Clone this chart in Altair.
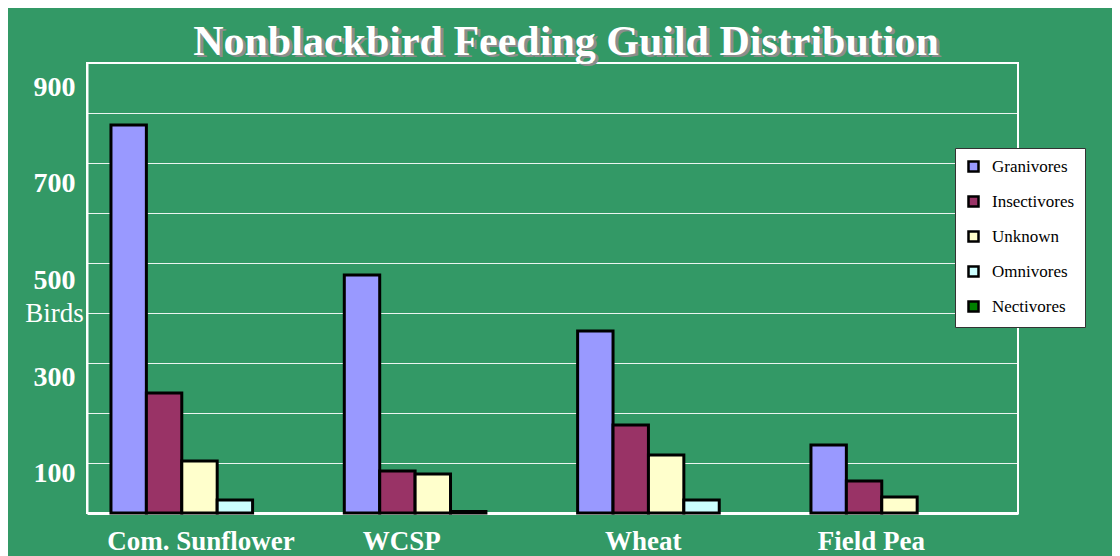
import altair as alt
import pandas as pd

crops = ["Com. Sunflower", "WCSP", "Wheat", "Field Pea"]
guilds = ["Granivores", "Insectivores", "Unknown", "Omnivores", "Nectivores"]
granivores = [776, 476, 364, 136]
insectivores = [240, 84, 176, 64]
unknown = [104, 78, 116, 32]
omnivores = [26, 3, 26, 0]
nectivores = [0, 0, 0, 0]
colors = ["#9999FF", "#993366", "#FFFFCC", "#CCFFFF", "#008000"]
title_text = "Nonblackbird Feeding Guild Distribution"
y_tick_values = [100, 200, 300, 400, 500, 600, 700, 800, 900]

rows = []
for g, vals in zip(guilds, [granivores, insectivores, unknown, omnivores, nectivores]):
    for c, v in zip(crops, vals):
        if v > 0:
            rows.append({"Crop": c, "Guild": g, "Birds": v})
df = pd.DataFrame(rows)

SERIF = "Liberation Serif"

x_label_offset = {
    "condition": [
        {"test": "datum.value === 'WCSP'", "value": -31},
        {"test": "datum.value === 'Wheat'", "value": -23},
        {"test": "datum.value === 'Field Pea'", "value": -28},
    ],
    "value": 1.5,
}
y_label_offset = {
    "condition": [
        {"test": "datum.value === 900", "value": 24},
        {"test": "datum.value === 700", "value": 20},
        {"test": "datum.value === 500", "value": 17},
        {"test": "datum.value === 300", "value": 14},
    ],
    "value": 10,
}

bars = alt.Chart(df).mark_bar(stroke="black", strokeWidth=3, strokeJoin="miter").encode(
    x=alt.X(
        "Crop:N",
        sort=crops,
        title=None,
        scale=alt.Scale(paddingInner=0.2413, paddingOuter=0.1157, align=0.444),
        axis=alt.Axis(
            labelAngle=0,
            labelFont=SERIF,
            labelFontSize=27,
            labelFontWeight="bold",
            labelColor="white",
            labelPadding=15,
            labelBaseline="top",
            labelOffset=x_label_offset,
            labelLimit=400,
            ticks=False,
            domainColor="white",
            domainWidth=3,
            grid=False,
        ),
    ),
    xOffset=alt.XOffset(
        "Guild:N", sort=guilds, scale=alt.Scale(domain=guilds, paddingInner=0, paddingOuter=0)
    ),
    y=alt.Y(
        "Birds:Q",
        scale=alt.Scale(domain=[0, 900], nice=False),
        title="Birds",
        axis=alt.Axis(
            values=y_tick_values,
            labelExpr="datum.value % 200 == 100 ? datum.label : ''",
            labelFont=SERIF,
            labelFontSize=28,
            labelFontWeight="bold",
            labelColor="white",
            labelPadding=12,
            labelBaseline="middle",
            labelOffset=y_label_offset,
            ticks=False,
            domainColor="white",
            domainWidth=2,
            gridColor="white",
            gridWidth=1,
            gridOpacity=0.9,
            titleFont=SERIF,
            titleFontSize=27,
            titleFontWeight="normal",
            titleColor="white",
            titleAngle=0,
            titleAlign="center",
            titleBaseline="middle",
            titleX=-33,
            titleY=250,
        ),
    ),
    color=alt.Color(
        "Guild:N",
        scale=alt.Scale(domain=guilds, range=colors),
        legend=alt.Legend(
            title=None,
            orient="none",
            legendX=868,
            legendY=85,
            fillColor="white",
            strokeColor="#333333",
            padding=10,
            symbolType="square",
            symbolSize=100,
            symbolStrokeColor="black",
            symbolStrokeWidth=2.5,
            labelFont=SERIF,
            labelFontSize=17,
            labelColor="black",
            labelOffset=10,
            rowPadding=14,
        ),
    ),
)

title_df = pd.DataFrame({"t": [title_text]})
shadow = alt.Chart(title_df).mark_text(
    font=SERIF, fontSize=42, fontWeight="bold", color="#8c8c8c",
    align="center", baseline="alphabetic",
).encode(text="t:N", x=alt.value(482), y=alt.value(-6))
title = alt.Chart(title_df).mark_text(
    font=SERIF, fontSize=42, fontWeight="bold", color="white",
    align="center", baseline="alphabetic",
).encode(text="t:N", x=alt.value(479), y=alt.value(-8))

chart = alt.layer(bars, shadow, title).properties(
    width=931,
    height=450,
    background="#339966",
    autosize=alt.AutoSizeParams(type="none"),
    padding={"left": 79, "top": 55, "right": 94, "bottom": 43},
).configure_view(stroke="white", strokeWidth=2)

chart.save("out.html", embed_options={"renderer": "svg", "actions": False})
